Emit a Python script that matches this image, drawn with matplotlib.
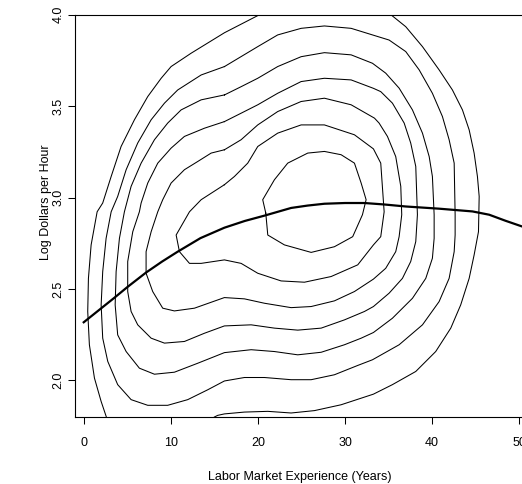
import matplotlib
matplotlib.use("Agg")
import matplotlib.pyplot as plt

# fitted wage curve (experience, log wage)
curve_x = [0.0, 3.52, 5.0, 7.16, 9.0, 10.79, 13.4, 16.15, 18.5, 20.75, 23.81, 25.7, 27.63, 30.0,
           32.23, 34.5, 36.97, 40.80, 44.63, 46.55, 48.42, 50.37]
curve_y = [2.318, 2.452, 2.510, 2.590, 2.650, 2.704, 2.778, 2.835, 2.872, 2.901, 2.943, 2.956, 2.966,
           2.970, 2.970, 2.962, 2.951, 2.939, 2.924, 2.906, 2.873, 2.841]

# density contours, (x, y) pairs, outer to inner
contour_1a = [(2.6, 1.80), (2.00, 1.885), (1.23, 2.013), (0.65, 2.195), (0.46, 2.377), (0.54, 2.558),
              (0.85, 2.741), (1.54, 2.922), (2.18, 2.970), (3.15, 3.115), (4.29, 3.279), (5.82, 3.425),
              (7.35, 3.552), (8.89, 3.652), (10.03, 3.716), (12.33, 3.789), (16.16, 3.901), (20.2, 4.0)]
contour_1b = [(35.25, 4.0), (36.97, 3.934), (38.89, 3.825), (40.80, 3.698), (42.33, 3.588), (43.48, 3.479),
              (44.25, 3.370), (44.82, 3.243), (45.20, 3.115), (45.40, 3.006), (45.32, 2.813), (44.82, 2.686),
              (44.25, 2.558), (43.28, 2.413), (42.14, 2.286), (40.41, 2.158), (38.12, 2.049), (35.44, 1.977),
              (33.26, 1.925), (29.55, 1.867), (26.49, 1.835), (23.81, 1.822), (21.13, 1.831), (18.45, 1.827),
              (16.15, 1.817), (15.38, 1.809), (15.0, 1.80)]
contour_2 = [(16.16, 3.716), (19.98, 3.825), (22.27, 3.889), (24.96, 3.925), (27.63, 3.938), (30.70, 3.925),
             (33.15, 3.889), (35.06, 3.861), (36.97, 3.798), (38.51, 3.698), (40.03, 3.570), (41.18, 3.443),
             (41.95, 3.316), (42.53, 3.188), (42.64, 2.906), (42.64, 2.795), (42.53, 2.704), (41.95, 2.558),
             (40.80, 2.431), (38.89, 2.304), (36.21, 2.195), (33.15, 2.113), (31.46, 2.082), (28.78, 2.031),
             (26.11, 2.004), (23.81, 2.004), (20.75, 2.016), (18.45, 2.016), (16.15, 1.997), (14.24, 1.949),
             (11.94, 1.895), (9.64, 1.864), (7.35, 1.864), (5.44, 1.895), (3.90, 1.977), (2.76, 2.104),
             (2.18, 2.231), (2.00, 2.413), (2.18, 2.595), (2.57, 2.777), (3.15, 2.922), (3.90, 3.006),
             (4.87, 3.152), (6.20, 3.298), (7.74, 3.425), (9.27, 3.516), (10.79, 3.588), (13.48, 3.670)]
contour_3 = [(16.16, 3.561), (18.07, 3.606), (19.98, 3.652), (22.27, 3.716), (24.96, 3.770), (27.63, 3.792),
             (30.70, 3.780), (33.15, 3.734), (34.67, 3.680), (36.21, 3.598), (37.74, 3.479), (38.89, 3.352),
             (39.66, 3.224), (40.03, 3.115), (40.23, 2.906), (40.23, 2.777), (40.03, 2.668), (39.27, 2.558),
             (37.74, 2.449), (35.44, 2.340), (33.26, 2.262), (31.85, 2.231), (29.93, 2.195), (27.26, 2.154),
             (24.57, 2.140), (21.89, 2.158), (19.22, 2.168), (16.15, 2.152), (13.09, 2.094), (10.41, 2.045),
             (8.12, 2.034), (6.39, 2.067), (4.87, 2.158), (3.90, 2.249), (3.61, 2.413), (3.72, 2.595),
             (4.10, 2.777), (4.67, 2.922), (5.44, 3.061), (6.59, 3.188), (8.12, 3.316), (9.64, 3.407),
             (11.18, 3.479), (13.48, 3.534)]
contour_4 = [(16.15, 3.415), (18.07, 3.461), (19.98, 3.507), (22.27, 3.570), (24.96, 3.634), (27.63, 3.652),
             (30.70, 3.643), (33.26, 3.597), (34.10, 3.579), (35.44, 3.516), (36.79, 3.407), (37.54, 3.298),
             (38.12, 3.170), (38.31, 2.906), (38.12, 2.759), (37.54, 2.650), (36.59, 2.558), (35.06, 2.477),
             (33.26, 2.404), (32.23, 2.377), (29.93, 2.331), (27.26, 2.286), (24.57, 2.275), (21.89, 2.286),
             (19.22, 2.304), (16.15, 2.298), (13.86, 2.258), (11.56, 2.213), (9.27, 2.204), (7.74, 2.231),
             (6.20, 2.304), (5.44, 2.377), (5.05, 2.486), (5.05, 2.650), (5.63, 2.813), (6.39, 2.922),
             (6.59, 2.970), (7.35, 3.079), (8.50, 3.188), (10.03, 3.270), (11.56, 3.334), (13.86, 3.379)]
contour_5 = [(16.15, 3.261), (18.07, 3.316), (19.98, 3.397), (22.27, 3.470), (24.96, 3.525), (27.63, 3.543),
             (30.70, 3.507), (33.38, 3.434), (33.91, 3.407), (34.87, 3.334), (35.82, 3.224), (36.40, 3.061),
             (36.51, 2.906), (36.21, 2.786), (35.82, 2.704), (34.67, 2.613), (33.26, 2.554), (31.08, 2.486),
             (28.78, 2.435), (26.11, 2.404), (23.81, 2.398), (20.75, 2.422), (18.45, 2.446), (16.15, 2.453),
             (12.71, 2.395), (10.41, 2.380), (9.07, 2.395), (7.92, 2.486), (7.16, 2.586), (7.16, 2.704),
             (7.74, 2.813), (8.50, 2.922), (9.07, 2.988), (10.03, 3.079), (11.56, 3.152), (13.09, 3.197),
             (14.63, 3.243)]
contour_6 = [(16.15, 3.070), (17.30, 3.115), (18.83, 3.188), (19.98, 3.279), (22.27, 3.352), (24.96, 3.397),
             (27.63, 3.397), (31.08, 3.343), (33.26, 3.266), (34.10, 3.188), (34.49, 2.922), (34.10, 2.786),
             (33.26, 2.741), (31.46, 2.632), (28.40, 2.568), (25.34, 2.537), (22.66, 2.544), (19.98, 2.586),
             (18.07, 2.640), (16.15, 2.659), (13.48, 2.640), (12.14, 2.640), (10.99, 2.704), (10.61, 2.795),
             (12.14, 2.922), (13.48, 2.988)]
contour_7 = [(20.9, 2.915), (20.55, 2.988), (21.89, 3.097), (23.42, 3.188), (25.72, 3.243), (27.63, 3.252),
             (29.55, 3.234), (31.08, 3.188), (31.85, 3.079), (32.42, 2.988), (32.00, 2.906), (30.88, 2.786),
             (28.78, 2.731), (26.11, 2.700), (23.04, 2.741), (21.13, 2.795)]

open_contours = [contour_1a, contour_1b]
closed_contours = [contour_2, contour_3, contour_4, contour_5, contour_6, contour_7]

x_ticks = [0, 10, 20, 30, 40, 50]
y_ticks = [2.0, 2.5, 3.0, 3.5, 4.0]

plt.rcParams['font.family'] = ['Liberation Sans', 'DejaVu Sans']
plt.rcParams['font.size'] = 9

fig = plt.figure(figsize=(5.22, 4.84), dpi=100)
ax = fig.add_axes([0.1437, 0.1384, 0.8677, 0.8314])

for pts in open_contours:
    xs, ys = zip(*pts)
    ax.plot(xs, ys, color='black', lw=0.75, solid_joinstyle='round')
for pts in closed_contours:
    xs, ys = zip(*(pts + pts[:1]))
    ax.plot(xs, ys, color='black', lw=0.75, solid_joinstyle='round')

ax.plot(curve_x, curve_y, color='black', lw=1.6, solid_joinstyle='round')

ax.set_xlim(-1, 51)
ax.set_ylim(1.8, 4.0)
ax.set_xticks(x_ticks)
ax.set_yticks(y_ticks)
ax.set_yticklabels([f"{v:.1f}" for v in y_ticks], rotation=90, va='center')
ax.tick_params(axis='both', direction='out', length=5.2, width=0.75, colors='black')
ax.tick_params(axis='x', pad=9)
ax.tick_params(axis='y', pad=2.5)
for s in ax.spines.values():
    s.set_linewidth(0.8)

fig.text(300 / 522, 1 - 480 / 484, "Labor Market Experience (Years)", ha='center', va='baseline')
fig.text(46 / 522, 1 - 202 / 484, "Log Dollars per Hour", ha='center', va='center', rotation=90)

fig.savefig("out.png", dpi=100)
